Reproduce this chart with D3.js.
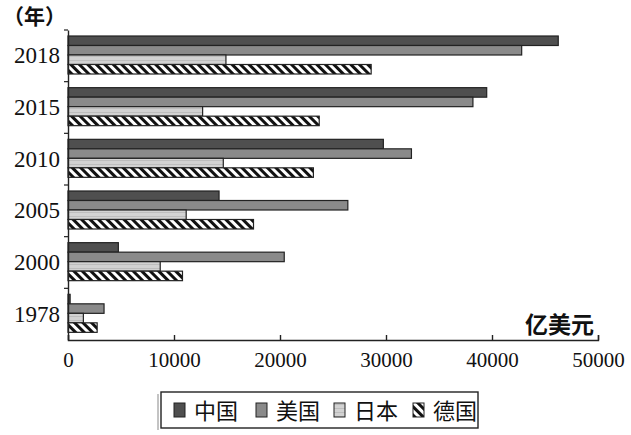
<!DOCTYPE html>
<html>
<head>
<meta charset="utf-8">
<script src="https://cdn.jsdelivr.net/npm/d3@7"></script>
<style>
  body { margin: 0; background: #fff; }
  svg { display: block; }
</style>
</head>
<body>
<svg id="chart" width="631" height="435"></svg>
<script>
// years, bottom to top in the picture
const years = ["1978", "2000", "2005", "2010", "2015", "2018"];
const countries = ["中国", "美国", "日本", "德国"];
const china   = [200, 4750, 14250, 29750, 39500, 46250];
const usa     = [3400, 20400, 26400, 32400, 38200, 42800];
const japan   = [1450, 8700, 11150, 14650, 12700, 14900];
const germany = [2750, 10800, 17500, 23150, 23700, 28600];
const xTicks = [0, 10000, 20000, 30000, 40000, 50000];

const series = [china, usa, japan, germany];

const svg = d3.select("#chart");
const plotLeft = 68, plotRight = 598, plotTop = 30, plotBottom = 340;

const x = d3.scaleLinear().domain([0, 50000]).range([plotLeft, plotRight]);
const y = d3.scaleBand().domain(years.slice().reverse()).range([plotTop, plotBottom]);
const inner = d3.scaleBand().domain(countries).range([6, 44]);

// patterns
const defs = svg.append("defs");
const hatch = defs.append("pattern")
  .attr("id", "hatch")
  .attr("patternUnits", "userSpaceOnUse")
  .attr("width", 6).attr("height", 6)
  .attr("patternTransform", "rotate(45)");
hatch.append("rect").attr("width", 6).attr("height", 6).attr("fill", "#fff");
hatch.append("rect").attr("width", 6).attr("height", 3).attr("fill", "#111");

const grid = defs.append("pattern")
  .attr("id", "grid")
  .attr("patternUnits", "userSpaceOnUse")
  .attr("width", 4).attr("height", 4);
grid.append("rect").attr("width", 4).attr("height", 4).attr("fill", "#d2d2d2");
grid.append("rect").attr("width", 4).attr("height", 1).attr("fill", "#bdbdbd");

const fills = ["#4f4f4f", "#8a8a8a", "url(#grid)", "url(#hatch)"];

// bars
const rows = [];
years.forEach((yr, i) => {
  countries.forEach((c, j) => {
    rows.push({ year: yr, country: c, value: series[j][i], k: j });
  });
});

svg.append("g")
  .selectAll("rect")
  .data(rows)
  .join("rect")
  .attr("x", x(0))
  .attr("y", d => y(d.year) + inner(d.country))
  .attr("width", d => x(d.value) - x(0))
  .attr("height", inner.bandwidth())
  .attr("fill", d => fills[d.k])
  .attr("stroke", "#222")
  .attr("stroke-width", 1.2);

// x axis
const xAxis = d3.axisBottom(x).tickValues(xTicks).tickSize(-5).tickPadding(12)
  .tickFormat(d3.format("d"));
const gx = svg.append("g")
  .attr("transform", `translate(0,${plotBottom})`)
  .call(xAxis);
gx.select(".domain").attr("stroke", "#222").attr("stroke-width", 1.4);
gx.selectAll(".tick line").attr("stroke", "#222").attr("stroke-width", 1.4);
gx.selectAll("text")
  .attr("font-family", "Liberation Serif, serif")
  .attr("font-size", 21)
  .attr("fill", "#111");

// y axis
const yAxis = d3.axisLeft(y).tickSize(0).tickPadding(8);
const gy = svg.append("g")
  .attr("transform", `translate(${plotLeft},0)`)
  .call(yAxis);
gy.select(".domain").attr("stroke", "#222").attr("stroke-width", 1.4);
gy.selectAll("text")
  .attr("font-family", "Liberation Serif, serif")
  .attr("font-size", 23)
  .attr("fill", "#111");
// small ticks at band edges
svg.append("g")
  .selectAll("line")
  .data(years)
  .join("line")
  .attr("x1", plotLeft - 4).attr("x2", plotLeft)
  .attr("y1", d => y(d)).attr("y2", d => y(d))
  .attr("stroke", "#222").attr("stroke-width", 1.2);

// axis titles
svg.append("text")
  .attr("x", 3).attr("y", 24)
  .attr("font-family", "Noto Sans CJK SC, sans-serif")
  .attr("font-size", 21).attr("font-weight", "bold")
  .attr("fill", "#111")
  .text("（年）");
svg.append("text")
  .attr("x", 594).attr("y", 333)
  .attr("text-anchor", "end")
  .attr("font-family", "Noto Sans CJK SC, sans-serif")
  .attr("font-size", 23).attr("font-weight", "bold")
  .attr("fill", "#111")
  .text("亿美元");

// legend
const lg = svg.append("g");
lg.append("rect")
  .attr("x", 161).attr("y", 392).attr("width", 317).attr("height", 36)
  .attr("fill", "#fff").attr("stroke", "#222").attr("stroke-width", 1.4);
lg.append("line")
  .attr("x1", 158).attr("x2", 158).attr("y1", 394).attr("y2", 430)
  .attr("stroke", "#888").attr("stroke-width", 1);
const legX = [174, 256, 334, 413];
countries.forEach((c, j) => {
  lg.append("rect")
    .attr("x", legX[j]).attr("y", 403).attr("width", 11).attr("height", 14)
    .attr("fill", fills[j]).attr("stroke", "#222").attr("stroke-width", 1);
  lg.append("text")
    .attr("x", legX[j] + 20).attr("y", 419)
    .attr("font-family", "Noto Sans CJK SC, sans-serif")
    .attr("font-size", 22)
    .attr("fill", "#111")
    .text(c);
});
</script>
</body>
</html>
